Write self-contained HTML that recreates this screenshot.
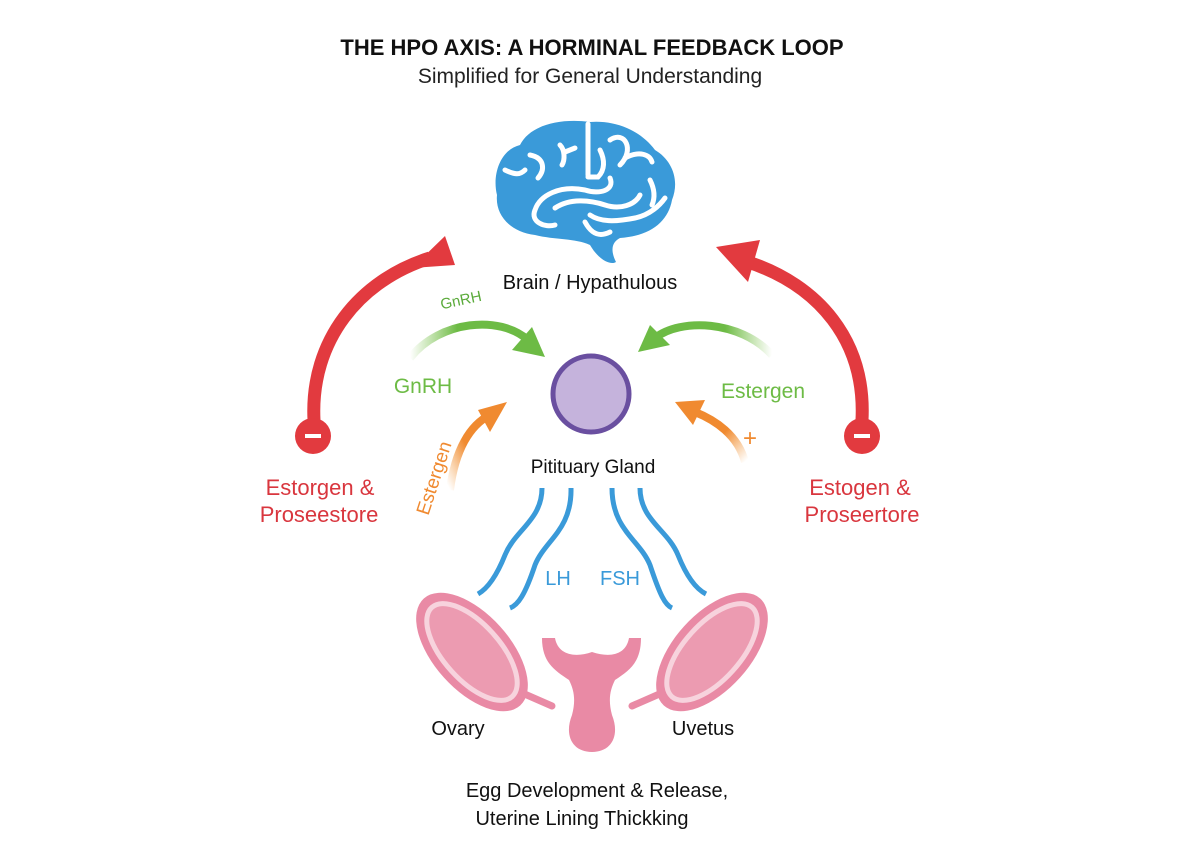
<!DOCTYPE html>
<html><head><meta charset="utf-8"><style>
body{margin:0;background:#fff}
svg{display:block}
text{font-family:"Liberation Sans",sans-serif}
</style></head><body>
<svg width="1184" height="864" viewBox="0 0 1184 864" xmlns="http://www.w3.org/2000/svg">
<defs>
<linearGradient id="gl" x1="0" y1="0" x2="1" y2="0"><stop offset="0" stop-color="#7cc24a" stop-opacity="0"/><stop offset="0.4" stop-color="#6dbb45"/></linearGradient>
<linearGradient id="gr" x1="1" y1="0" x2="0" y2="0"><stop offset="0" stop-color="#7cc24a" stop-opacity="0"/><stop offset="0.4" stop-color="#6dbb45"/></linearGradient>
<linearGradient id="ol" x1="0" y1="1" x2="1" y2="0"><stop offset="0" stop-color="#f39a3c" stop-opacity="0"/><stop offset="0.5" stop-color="#f08a30"/></linearGradient>
<linearGradient id="or" x1="1" y1="1" x2="0" y2="0"><stop offset="0" stop-color="#f39a3c" stop-opacity="0"/><stop offset="0.5" stop-color="#f08a30"/></linearGradient>
</defs>
<text x="592" y="55" font-size="22" font-weight="bold" text-anchor="middle" fill="#111">THE HPO AXIS: A HORMINAL FEEDBACK LOOP</text>
<text x="590" y="83" font-size="21" text-anchor="middle" fill="#222">Simplified for General Understanding</text>

<!-- brain -->
<g fill="#3a9ad9">
<path d="M590 122 C560 118 530 125 520 145 C500 150 492 175 497 195 C495 215 510 232 535 235 C555 240 575 238 590 245 C600 262 612 265 616 262 C610 250 612 242 620 238 C650 236 668 222 672 200 C680 180 672 160 655 150 C640 130 615 120 590 122 Z"/>
</g>
<g fill="none" stroke="#fff" stroke-width="5" stroke-linecap="round">
<path d="M588 124 L588 175"/>
<path d="M505 170 C515 175 520 175 525 170"/>
<path d="M530 155 C545 158 545 170 538 178"/>
<path d="M560 145 C565 150 565 160 562 165 M565 152 L575 148"/>
<path d="M600 150 C605 160 605 170 598 177 L588 177"/>
<path d="M610 140 C625 130 635 150 620 165"/>
<path d="M625 158 C640 150 650 155 652 162"/>
<path d="M610 178 C615 190 600 195 585 190 C560 185 540 195 535 210 C530 222 545 228 555 225"/>
<path d="M555 208 C570 198 590 200 605 205 C620 210 635 205 640 195"/>
<path d="M650 180 C655 190 655 198 652 205"/>
<path d="M590 215 C600 222 615 222 635 218 C650 215 660 205 665 198"/>
<path d="M585 222 C592 235 600 237 610 232"/>
</g>
<text x="590" y="289" font-size="20" text-anchor="middle" fill="#111">Brain / Hypathulous</text>

<!-- red arrows -->
<path d="M314 420 C310 340 360 280 430 258" fill="none" stroke="#e23a3f" stroke-width="13"/>
<polygon points="445,236 455,265 412,268" fill="#e23a3f"/>
<path d="M862 420 C866 340 818 285 748 262" fill="none" stroke="#e23a3f" stroke-width="13"/>
<polygon points="716,247 760,240 748,282" fill="#e23a3f"/>
<circle cx="313" cy="436" r="18" fill="#e23a3f"/><rect x="305" y="434" width="16" height="4" fill="#fff"/>
<circle cx="862" cy="436" r="18" fill="#e23a3f"/><rect x="854" y="434" width="16" height="4" fill="#fff"/>
<text x="320" y="495" font-size="22" text-anchor="middle" fill="#d9363e">Estorgen &amp;</text>
<text x="319" y="522" font-size="22" text-anchor="middle" fill="#d9363e">Proseestore</text>
<text x="860" y="495" font-size="22" text-anchor="middle" fill="#d9363e">Estogen &amp;</text>
<text x="862" y="522" font-size="22" text-anchor="middle" fill="#d9363e">Proseertore</text>

<!-- green -->
<path d="M410 358 C440 320 500 315 528 340" fill="none" stroke="url(#gl)" stroke-width="8"/>
<polygon points="545,357 512,350 532,327" fill="#6dbb45"/>
<path d="M772 355 C740 320 680 318 655 338" fill="none" stroke="url(#gr)" stroke-width="8"/>
<polygon points="638,352 650,325 670,345" fill="#6dbb45"/>
<text x="462" y="305" font-size="15" text-anchor="middle" fill="#5aaa3a" transform="rotate(-12 462 305)">GnRH</text>
<text x="423" y="393" font-size="21" text-anchor="middle" fill="#6dbb45">GnRH</text>
<text x="763" y="398" font-size="21" text-anchor="middle" fill="#6dbb45">Estergen</text>

<!-- orange -->
<path d="M450 490 C455 450 470 425 490 415" fill="none" stroke="url(#ol)" stroke-width="8"/>
<polygon points="507,402 490,432 478,410" fill="#f08a30"/>
<path d="M745 462 C738 435 715 420 695 412" fill="none" stroke="url(#or)" stroke-width="8"/>
<polygon points="675,402 705,400 693,425" fill="#f08a30"/>
<text x="440" y="480" font-size="19" text-anchor="middle" fill="#f08a30" transform="rotate(-72 440 480)">Estergen</text>
<text x="750" y="446" font-size="24" text-anchor="middle" fill="#f08a30">+</text>

<!-- pituitary -->
<circle cx="591" cy="394" r="38" fill="#c5b3dc" stroke="#6a4fa0" stroke-width="5"/>
<text x="593" y="473" font-size="19" text-anchor="middle" fill="#111">Pitituary Gland</text>

<!-- blue lines -->
<g fill="none" stroke="#3a9ad9" stroke-width="5">
<path d="M542 488 C542 520 515 530 505 555 C495 580 485 590 478 594"/>
<path d="M571 488 C572 530 545 540 535 565 C525 595 518 605 510 608"/>
<path d="M612 488 C612 530 640 540 650 565 C660 595 665 605 672 608"/>
<path d="M640 488 C640 520 668 530 678 555 C688 580 698 590 706 594"/>
</g>
<text x="558" y="585" font-size="20" text-anchor="middle" fill="#3a9ad9">LH</text>
<text x="620" y="585" font-size="20" text-anchor="middle" fill="#3a9ad9">FSH</text>

<!-- ovaries / uterus -->
<g stroke="#e98aa5" stroke-width="7" stroke-linecap="round" fill="none">
<path d="M520 692 L552 706"/><path d="M632 706 L664 692"/>
</g>
<ellipse cx="472" cy="652" rx="72" ry="38" transform="rotate(48 472 652)" fill="#e98aa5"/>
<ellipse cx="472" cy="652" rx="60" ry="28" transform="rotate(48 472 652)" fill="#ec9bb1" stroke="#f7d3dd" stroke-width="5"/>
<ellipse cx="712" cy="652" rx="72" ry="38" transform="rotate(-48 712 652)" fill="#e98aa5"/>
<ellipse cx="712" cy="652" rx="60" ry="28" transform="rotate(-48 712 652)" fill="#ec9bb1" stroke="#f7d3dd" stroke-width="5"/>
<path d="M542 638 L555 638 C558 655 575 658 592 652 C610 658 626 655 629 638 L641 638 C641 662 630 670 615 680 C610 690 608 700 612 715 C620 735 612 752 592 752 C572 752 564 735 572 715 C576 700 574 690 569 680 C554 670 542 662 542 638 Z" fill="#e98aa5"/>
<text x="458" y="735" font-size="20" text-anchor="middle" fill="#111">Ovary</text>
<text x="703" y="735" font-size="20" text-anchor="middle" fill="#111">Uvetus</text>

<text x="597" y="797" font-size="20" text-anchor="middle" fill="#111">Egg Development &amp; Release,</text>
<text x="582" y="825" font-size="20" text-anchor="middle" fill="#111">Uterine Lining Thickking</text>
</svg>
</body></html>
